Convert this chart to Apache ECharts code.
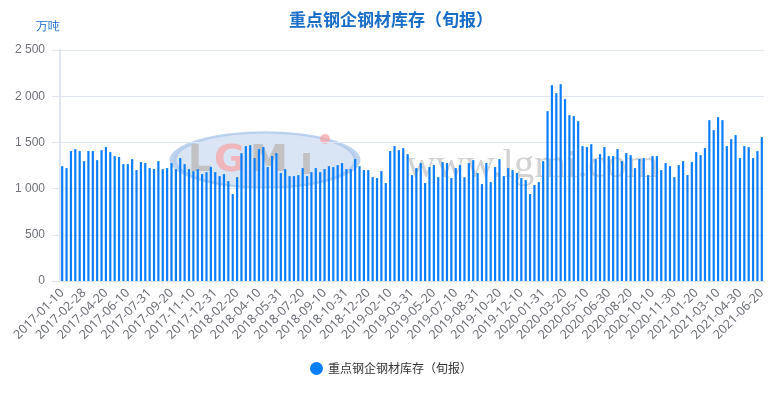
<!DOCTYPE html>
<html>
<head>
<meta charset="utf-8">
<script src="https://cdn.jsdelivr.net/npm/echarts@6/dist/echarts.min.js"></script>
<style>
html, body { margin: 0; padding: 0; background: #fff; }
#main { width: 782px; height: 393px; }
</style>
</head>
<body>
<div id="main"></div>
<script>
// 旬报日期：每月 10、20、月末
var startYear = 2017, endYear = 2021, endMonth = 6;
var dates = [];
for (var y = startYear; y <= endYear; y++) {
    for (var m = 1; m <= 12; m++) {
        if (y === endYear && m > endMonth) break;
        var mm = (m < 10 ? '0' : '') + m;
        var last = new Date(y, m, 0).getDate();
        dates.push(y + '-' + mm + '-10', y + '-' + mm + '-20', y + '-' + mm + '-' + last);
    }
}
dates.pop(); // 最后一期 2021-06-20

// 重点钢企钢材库存（万吨）
var stock2017 = [1243,1222,1406,1427,1406,1297,1406,1406,1308,1416,
                 1449,1395,1352,1341,1265,1265,1319,1200,1287,1276,
                 1222,1211,1297,1211,1222,1276,1211,1330,1265,1211,
                 1189,1211,1157,1178,1233,1178];
var stock2018 = [1135,1157,1081,941,1124,1384,1460,1470,1330,1427,
                 1449,1233,1352,1384,1168,1211,1135,1135,1146,1222,
                 1135,1178,1222,1178,1211,1243,1233,1254,1276,1211,
                 1211,1319,1243,1200,1200,1124];
var stock2019 = [1114,1189,1060,1406,1460,1416,1438,1373,1146,1222,
                 1276,1060,1233,1254,1124,1287,1276,1114,1222,1254,
                 1124,1276,1308,1168,1049,1276,1070,1233,1319,1135,
                 1222,1200,1168,1114,1092,941];
var stock2020 = [1038,1070,1297,1838,2119,2033,2130,1968,1795,1784,
                 1730,1460,1449,1481,1319,1373,1449,1352,1352,1427,
                 1297,1384,1362,1222,1319,1330,1146,1352,1352,1200,
                 1276,1243,1124,1254,1297,1146];
var stock2021 = [1287,1395,1362,1438,1741,1633,1773,1741,1460,1535,
                 1579,1330,1460,1449,1330,1406,1557];
var stockData = stock2017.concat(stock2018, stock2019, stock2020, stock2021);

var seriesName = '重点钢企钢材库存（旬报）';
var yTicks = { min: 0, max: 2500, interval: 500 };

var myChart = echarts.init(document.getElementById('main'));

function fmtThousand(v) {
    return String(v).replace(/\B(?=(\d{3})+(?!\d))/g, ' ');
}

// 水印 (logo + 网址)
var grayMark = 'rgba(185,180,180,0.75)';
var pinkMark = 'rgba(245,165,170,0.75)';
var watermark = [
    {
        type: 'circle', z: 0,
        shape: { cx: 0, cy: 0, r: 92 },
        x: 265, y: 160, scaleY: 0.3,
        style: { fill: 'rgba(185,208,235,0.55)', stroke: 'rgba(170,198,232,0.75)', lineWidth: 7, strokeNoScale: true }
    },
    { type: 'text', z: 0, x: 188, y: 161, style: { text: 'L', fill: grayMark, font: 'bold 38px "DejaVu Sans"', verticalAlign: 'middle' } },
    { type: 'text', z: 0, x: 214, y: 161, style: { text: 'G', fill: pinkMark, font: 'bold 38px "DejaVu Sans"', verticalAlign: 'middle' } },
    { type: 'text', z: 0, x: 250, y: 161, style: { text: 'M', fill: grayMark, font: 'bold 38px "DejaVu Sans"', verticalAlign: 'middle' } },
    { type: 'text', z: 0, x: 300, y: 164, style: { text: 'ı', fill: grayMark, font: 'bold 38px "DejaVu Sans"', verticalAlign: 'middle' } },
    { type: 'circle', z: 0, shape: { cx: 0, cy: 0, r: 5 }, x: 325, y: 139, style: { fill: pinkMark } },
    {
        type: 'text', z: 0, x: 406, y: 166,
        style: { text: 'www.lgmi.com', fill: 'rgba(200,200,200,0.8)', font: '41px "Liberation Serif"', verticalAlign: 'middle' }
    }
];

var option = {
    backgroundColor: '#fff',
    title: {
        text: seriesName,
        left: 'center',
        top: 6,
        textStyle: {
            color: '#1a6ec8',
            fontSize: 17,
            fontWeight: 'bold',
            fontFamily: 'Noto Sans CJK SC'
        }
    },
    graphic: watermark,
    legend: {
        bottom: 13,
        left: 'center',
        icon: 'circle',
        itemWidth: 13,
        itemHeight: 13,
        textStyle: { color: '#333', fontSize: 12, fontFamily: 'Noto Sans CJK SC' },
        data: [seriesName]
    },
    grid: {
        left: 60,
        right: 18,
        top: 50,
        bottom: 112
    },
    xAxis: {
        type: 'category',
        data: dates,
        boundaryGap: true,
        axisLine: { lineStyle: { color: '#e0e6f1', width: 1 } },
        axisTick: {
            alignWithLabel: true,
            interval: 4,
            length: 8,
            lineStyle: { color: '#e0e6f1', width: 2 }
        },
        axisLabel: {
            interval: 4,
            rotate: 45,
            margin: 10,
            color: '#6e7079',
            fontSize: 12.5,
            fontFamily: 'Noto Sans'
        }
    },
    yAxis: {
        type: 'value',
        min: yTicks.min,
        max: yTicks.max,
        interval: yTicks.interval,
        name: '万吨',
        nameGap: 17,
        nameTextStyle: { color: '#1a6ec8', fontSize: 12, align: 'right' },
        axisLine: { show: true, lineStyle: { color: '#e0e6f1', width: 2 } },
        axisTick: { show: true, length: 8, lineStyle: { color: '#e0e6f1' } },
        axisLabel: {
            color: '#6e7079',
            fontSize: 12,
            margin: 15,
            formatter: fmtThousand
        },
        splitLine: { lineStyle: { color: '#e0e6f1' } }
    },
    series: [
        {
            name: seriesName,
            type: 'bar',
            z: 2,
            barWidth: 2.2,
            itemStyle: { color: '#0a7efc' },
            data: stockData
        }
    ]
};
myChart.setOption(option);
</script>
</body>
</html>
